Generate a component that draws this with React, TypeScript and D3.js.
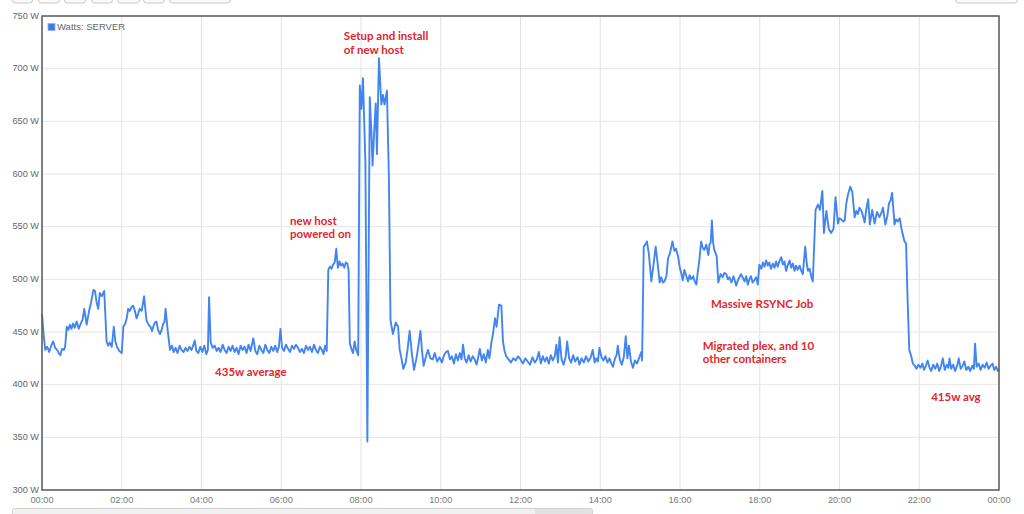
import React from "react";
import * as d3 from "d3";

// [hour of day, watts]
const readings: [number, number][] = [
[0.00,467],[0.04,448],[0.08,433],[0.13,436],[0.18,431],[0.23,437],[0.28,441],[0.33,435],[0.38,433],[0.42,430],[0.46,428],[0.5,434],[0.55,433],[0.58,436],[0.62,455],[0.66,452],[0.7,457],[0.74,453],[0.78,458],[0.82,454],[0.87,460],[0.92,453],[0.97,458],[1.02,462],[1.06,472],[1.12,457],[1.18,470],[1.23,478],[1.29,490],[1.33,489],[1.37,478],[1.41,472],[1.45,487],[1.5,484],[1.56,489],[1.62,441],[1.66,437],[1.7,440],[1.75,436],[1.8,455],[1.84,441],[1.88,436],[1.94,432],[2.0,430],[2.04,455],[2.09,458],[2.13,464],[2.16,472],[2.2,470],[2.25,474],[2.29,475],[2.33,470],[2.37,463],[2.41,467],[2.45,472],[2.5,470],[2.56,484],[2.62,461],[2.67,457],[2.72,455],[2.76,451],[2.79,455],[2.83,459],[2.87,460],[2.91,452],[2.96,448],[3.0,452],[3.04,458],[3.07,459],[3.1,472],[3.15,452],[3.21,433],[3.26,437],[3.3,431],[3.35,435],[3.4,430],[3.45,437],[3.5,433],[3.55,431],[3.6,435],[3.65,432],[3.7,436],[3.75,433],[3.8,438],[3.83,442],[3.87,432],[3.92,430],[3.97,436],[4.02,431],[4.07,437],[4.12,429],[4.16,433],[4.19,483],[4.23,440],[4.28,435],[4.33,437],[4.38,432],[4.43,435],[4.48,431],[4.53,438],[4.58,433],[4.63,430],[4.68,436],[4.73,432],[4.78,437],[4.83,431],[4.88,435],[4.93,429],[4.98,437],[5.03,433],[5.08,436],[5.13,430],[5.18,438],[5.23,432],[5.3,444],[5.35,432],[5.4,429],[5.45,437],[5.5,433],[5.55,430],[5.6,438],[5.65,433],[5.7,430],[5.75,436],[5.8,432],[5.85,437],[5.9,431],[5.94,436],[5.98,453],[6.02,435],[6.07,432],[6.12,438],[6.17,434],[6.22,431],[6.27,437],[6.32,434],[6.37,438],[6.42,435],[6.47,431],[6.52,434],[6.57,430],[6.62,437],[6.67,433],[6.72,436],[6.77,431],[6.82,438],[6.87,433],[6.92,430],[6.97,436],[7.02,433],[7.06,429],[7.1,437],[7.14,432],[7.18,509],[7.22,512],[7.26,510],[7.3,514],[7.34,516],[7.38,529],[7.42,511],[7.46,517],[7.5,513],[7.54,515],[7.58,511],[7.62,516],[7.66,515],[7.69,508],[7.72,439],[7.76,434],[7.8,430],[7.84,441],[7.88,433],[7.93,428],[7.97,684],[8.01,662],[8.05,691],[8.08,650],[8.11,611],[8.16,346],[8.22,673],[8.26,640],[8.29,608],[8.33,640],[8.37,667],[8.4,619],[8.45,710],[8.51,666],[8.55,675],[8.59,666],[8.65,679],[8.7,596],[8.74,461],[8.8,448],[8.87,459],[8.93,455],[8.97,433],[9.02,424],[9.06,415],[9.12,421],[9.17,434],[9.22,451],[9.28,428],[9.33,414],[9.39,425],[9.44,437],[9.49,451],[9.53,432],[9.57,418],[9.63,427],[9.68,433],[9.74,425],[9.8,424],[9.85,430],[9.91,422],[9.97,426],[10.03,421],[10.08,428],[10.13,431],[10.18,432],[10.23,424],[10.28,427],[10.33,420],[10.38,429],[10.43,423],[10.48,430],[10.52,424],[10.56,438],[10.6,425],[10.65,421],[10.7,428],[10.75,422],[10.8,427],[10.85,424],[10.9,419],[10.94,426],[10.98,434],[11.03,423],[11.08,429],[11.13,421],[11.18,433],[11.22,425],[11.27,440],[11.31,448],[11.36,463],[11.4,455],[11.46,476],[11.52,475],[11.56,441],[11.6,432],[11.64,427],[11.7,424],[11.76,421],[11.82,425],[11.88,423],[11.94,427],[12.0,424],[12.06,420],[12.12,425],[12.18,422],[12.24,419],[12.3,426],[12.36,421],[12.41,424],[12.46,431],[12.51,420],[12.56,427],[12.61,422],[12.66,426],[12.71,420],[12.76,428],[12.81,423],[12.86,427],[12.9,438],[12.94,421],[12.98,445],[13.03,424],[13.08,419],[13.13,426],[13.17,441],[13.22,425],[13.27,421],[13.32,428],[13.37,422],[13.43,426],[13.48,419],[13.53,425],[13.59,421],[13.64,427],[13.7,422],[13.76,426],[13.81,433],[13.86,421],[13.9,425],[13.94,422],[13.98,435],[14.03,426],[14.08,423],[14.13,427],[14.18,421],[14.23,425],[14.28,420],[14.32,417],[14.37,425],[14.41,428],[14.44,437],[14.49,424],[14.54,419],[14.59,426],[14.64,446],[14.68,425],[14.72,437],[14.77,422],[14.82,416],[14.87,423],[14.92,420],[14.97,425],[15.03,431],[15.05,423],[15.09,531],[15.13,533],[15.17,536],[15.22,524],[15.28,498],[15.33,512],[15.39,531],[15.44,515],[15.49,497],[15.53,502],[15.57,497],[15.61,498],[15.66,503],[15.7,520],[15.75,525],[15.81,536],[15.86,527],[15.9,529],[15.95,522],[15.99,512],[16.03,506],[16.07,499],[16.11,509],[16.16,503],[16.2,498],[16.24,504],[16.28,500],[16.33,503],[16.37,498],[16.41,495],[16.45,508],[16.49,520],[16.53,536],[16.57,530],[16.61,528],[16.66,533],[16.71,523],[16.74,533],[16.77,535],[16.8,556],[16.83,535],[16.86,528],[16.92,522],[16.96,497],[17.02,505],[17.07,502],[17.11,506],[17.16,505],[17.2,500],[17.24,502],[17.29,497],[17.34,503],[17.38,498],[17.41,494],[17.45,499],[17.49,502],[17.53,505],[17.57,502],[17.62,498],[17.66,503],[17.7,495],[17.74,500],[17.78,503],[17.82,497],[17.86,499],[17.91,502],[17.95,495],[17.99,514],[18.04,510],[18.08,516],[18.12,512],[18.16,518],[18.2,513],[18.24,516],[18.28,510],[18.33,515],[18.37,511],[18.41,517],[18.45,512],[18.5,518],[18.54,521],[18.58,514],[18.62,517],[18.66,508],[18.7,513],[18.75,518],[18.79,511],[18.83,515],[18.87,508],[18.91,513],[18.95,509],[19.0,513],[19.04,508],[19.08,505],[19.14,531],[19.18,515],[19.21,508],[19.25,510],[19.29,503],[19.33,498],[19.4,566],[19.46,571],[19.51,566],[19.57,584],[19.61,544],[19.67,565],[19.73,548],[19.79,544],[19.85,548],[19.9,578],[19.96,553],[20.0,558],[20.04,557],[20.09,555],[20.13,556],[20.17,572],[20.21,580],[20.27,588],[20.32,583],[20.38,559],[20.42,565],[20.46,562],[20.5,568],[20.55,565],[20.59,560],[20.63,554],[20.67,566],[20.72,576],[20.76,552],[20.82,566],[20.88,553],[20.94,564],[21.0,559],[21.05,563],[21.09,568],[21.15,552],[21.2,560],[21.24,572],[21.28,575],[21.32,582],[21.38,552],[21.42,557],[21.46,555],[21.51,558],[21.55,549],[21.59,542],[21.63,536],[21.67,534],[21.7,490],[21.75,433],[21.8,427],[21.84,420],[21.89,418],[21.93,415],[21.98,419],[22.03,416],[22.08,420],[22.12,414],[22.17,418],[22.21,423],[22.26,416],[22.3,413],[22.35,419],[22.4,415],[22.45,420],[22.5,413],[22.55,418],[22.59,425],[22.64,414],[22.69,419],[22.73,416],[22.76,425],[22.8,415],[22.85,419],[22.9,413],[22.95,418],[22.99,425],[23.04,415],[23.09,418],[23.13,422],[23.18,414],[23.23,417],[23.28,413],[23.33,418],[23.37,415],[23.4,439],[23.44,417],[23.49,420],[23.54,414],[23.59,419],[23.64,416],[23.69,421],[23.74,415],[23.79,418],[23.84,420],[23.88,414],[23.93,417],[23.97,413],[24.0,415]
];

const yTicks = [300, 350, 400, 450, 500, 550, 600, 650, 700, 750];
const xTicks = [0, 2, 4, 6, 8, 10, 12, 14, 16, 18, 20, 22, 24];
const seriesName = "Watts: SERVER";

// annotation anchors: hour and watts of the first line's left baseline
const notes: { h: number; w: number; lines: string[] }[] = [
  { h: 7.57, w: 727, lines: ["Setup and install", "of new host"] },
  { h: 6.22, w: 552, lines: ["new host", "powered on"] },
  { h: 4.34, w: 408, lines: ["435w average"] },
  { h: 16.78, w: 473, lines: ["Massive RSYNC Job"] },
  { h: 16.57, w: 433, lines: ["Migrated plex, and 10", "other containers"] },
  { h: 22.3, w: 384.5, lines: ["415w avg"] },
];

const W = 1024, H = 514;
const L = 42, R = 999, T = 16, B = 490;

export default function App() {
  const x = d3.scaleLinear().domain([0, 24]).range([L, R]);
  const y = d3.scaleLinear().domain([300, 750]).range([B, T]);
  const line = d3
    .line<[number, number]>()
    .x((d) => x(d[0]))
    .y((d) => y(d[1]));
  const fmt = (h: number) => String(h % 24).padStart(2, "0") + ":00";
  const axisFont = "'Liberation Sans', Arial, sans-serif";
  const noteFont = "Lato, 'Open Sans', sans-serif";

  const topButtons = [[12, 20], [38, 21], [64, 21], [91, 21], [117, 22], [143, 21], [169, 61], [955, 62]];

  return (
    <svg width={W} height={H} style={{ position: "absolute", left: 0, top: 0, background: "#fff" }}>
      {topButtons.map(([bx, bw], i) => (
        <rect key={i} x={bx + 0.5} y={-14} width={bw} height={17} rx={3} fill="#fafafa" stroke="#c8c8c8" />
      ))}
      {/* grid */}
      {yTicks.map((t) => (
        <line key={"gy" + t} x1={L} x2={R} y1={y(t)} y2={y(t)} stroke="#e6e6e6" strokeWidth={1} />
      ))}
      {xTicks.map((t) => (
        <line key={"gx" + t} x1={x(t)} x2={x(t)} y1={T} y2={B} stroke="#e2e2e2" strokeWidth={1} />
      ))}
      {/* data line */}
      <path d={line(readings) || ""} fill="none" stroke="#4285f0" strokeWidth={1.9} strokeLinejoin="round" />
      {/* frame */}
      <rect x={L} y={T} width={R - L} height={B - T} fill="none" stroke="#5a5a5a" strokeWidth={1.5} />
      {/* y labels */}
      {yTicks.map((t) => (
        <text key={"ly" + t} x={L - 3} y={y(t)} dy="0.3em" textAnchor="end" fontFamily={axisFont} fontSize={9.2} fill="#666">
          {t} W
        </text>
      ))}
      {xTicks.map((t) => (
        <text key={"lx" + t} x={x(t)} y={503} textAnchor="middle" fontFamily={axisFont} fontSize={9.2} fill="#777">
          {fmt(t)}
        </text>
      ))}
      {/* legend */}
      <rect x={48} y={23.5} width={7} height={7} fill="#3b7ee8" stroke="#8fb4f0" strokeWidth={0.8} />
      <text x={57} y={30} fontFamily={axisFont} fontSize={9.5} fill="#666">{seriesName}</text>
      {/* annotations */}
      {notes.map((n, i) => (
        <text key={"n" + i} x={x(n.h)} y={y(n.w)} fontFamily={noteFont} fontWeight={700} fontSize={11.5} fill="#e3262d">
          {n.lines.map((ln, j) => (
            <tspan key={j} x={x(n.h)} dy={j === 0 ? 0 : 13.5}>{ln}</tspan>
          ))}
        </text>
      ))}
      {/* scrollbar */}
      <rect x={12.5} y={508.5} width={580} height={12} rx={2} fill="#f1f1f1" stroke="#d0d0d0" />
      <rect x={535} y={509} width={57} height={11} fill="#e2e2e2" />
    </svg>
  );
}
